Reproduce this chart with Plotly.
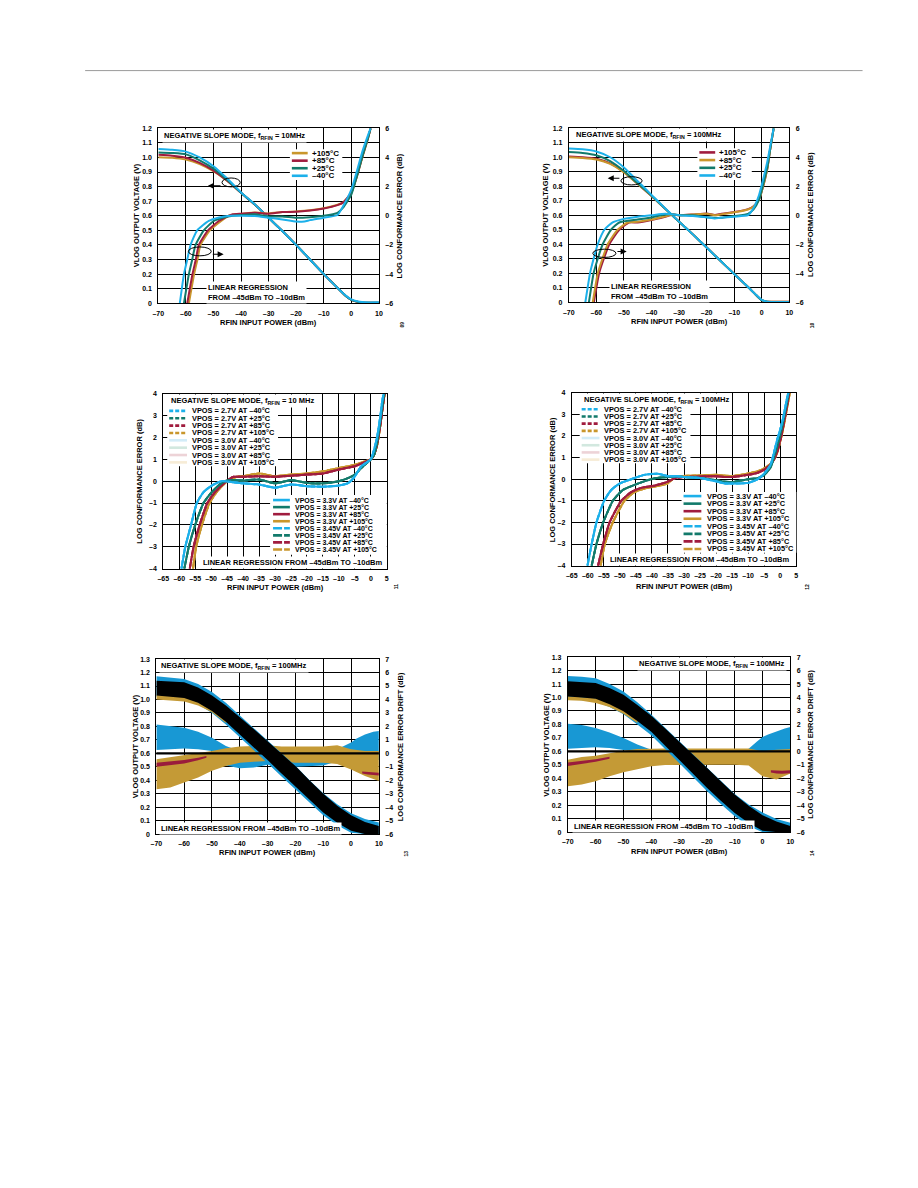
import plotly.graph_objects as go

W, H = 918, 1188
FONT = "Liberation Sans, Arial, Helvetica, sans-serif"

GOLD = "#c9962c"
MAROON = "#a01c3e"
TEAL = "#127a6b"
BLUE = "#1cb0ea"
FAINT_BLUE = "#d3ecf8"
FAINT_TEAL = "#d2e8df"
FAINT_MAROON = "#edd3d7"
FAINT_GOLD = "#f7ecd6"
BAND_BLUE = "#1898d4"
BAND_GOLD = "#c49a36"
BAND_MAROON = "#9a1c3c"

# ---------------- tick labels ----------------
X_TICKS_A = [-70, -60, -50, -40, -30, -20, -10, 0, 10]
X_TEXT_A = ["–70", "–60", "–50", "–40", "–30", "–20", "–10", "0", "10"]
V_TICKS_12 = [0, 0.1, 0.2, 0.3, 0.4, 0.5, 0.6, 0.7, 0.8, 0.9, 1.0, 1.1, 1.2]
V_TEXT_12 = ["0", "0.1", "0.2", "0.3", "0.4", "0.5", "0.6", "0.7", "0.8", "0.9", "1.0", "1.1", "1.2"]
DB_TICKS_6 = [-6, -4, -2, 0, 2, 4, 6]
DB_TEXT_6 = ["–6", "–4", "–2", "0", "2", "4", "6"]
X_TICKS_B = [-65, -60, -55, -50, -45, -40, -35, -30, -25, -20, -15, -10, -5, 0, 5]
X_TEXT_B = ["–65", "–60", "–55", "–50", "–45", "–40", "–35", "–30", "–25", "–20", "–15", "–10", "–5", "0", "5"]
E_TICKS_4 = [-4, -3, -2, -1, 0, 1, 2, 3, 4]
E_TEXT_4 = ["–4", "–3", "–2", "–1", "0", "1", "2", "3", "4"]
V_TICKS_13 = [0, 0.1, 0.2, 0.3, 0.4, 0.5, 0.6, 0.7, 0.8, 0.9, 1.0, 1.1, 1.2, 1.3]
V_TEXT_13 = ["0", "0.1", "0.2", "0.3", "0.4", "0.5", "0.6", "0.7", "0.8", "0.9", "1.0", "1.1", "1.2", "1.3"]
DB_TICKS_7 = [-6, -5, -4, -3, -2, -1, 0, 1, 2, 3, 4, 5, 6, 7]
DB_TEXT_7 = ["–6", "–5", "–4", "–3", "–2", "–1", "0", "1", "2", "3", "4", "5", "6", "7"]

# ---------------- chart 1 (10 MHz) ----------------
C1_P = [-70, -65, -60, -55, -50, -45, -40, -35, -30, -25, -20, -15, -10, -5, -2, 0, 3, 5, 10]
C1_V_P105 = [1.002, 0.998, 0.985, 0.955, 0.905, 0.838, 0.757, 0.677, 0.586, 0.495, 0.40, 0.30, 0.20, 0.105, 0.05, 0.023, 0.007, 0.003, 0.003]
C1_V_P85 = [1.018, 1.012, 0.998, 0.962, 0.91, 0.84, 0.757, 0.677, 0.586, 0.495, 0.40, 0.30, 0.20, 0.105, 0.05, 0.023, 0.007, 0.003, 0.003]
C1_V_P25 = [1.034, 1.03, 1.021, 0.98, 0.923, 0.845, 0.757, 0.677, 0.586, 0.495, 0.40, 0.30, 0.20, 0.105, 0.05, 0.023, 0.007, 0.004, 0.004]
C1_V_M40 = [1.058, 1.052, 1.04, 1.0, 0.94, 0.855, 0.76, 0.678, 0.586, 0.495, 0.40, 0.30, 0.20, 0.105, 0.052, 0.026, 0.01, 0.006, 0.006]

C1_E_M40_P = [-62.2, -60.7, -59.5, -58.3, -55.9, -51.7, -48, -44, -40, -35, -30, -25, -20, -17, -15, -10, -5, -3, 0, 2, 4, 6, 7]
C1_E_M40 = [-6, -4, -3, -2, -1, -0.36, -0.12, 0, 0, -0.02, -0.14, -0.25, -0.39, -0.4, -0.3, -0.14, 0.05, 0.65, 1.8, 3.05, 4.4, 5.5, 6]
C1_E_P25_P = [-60.7, -58.9, -57.7, -56.5, -53.5, -49.9, -46, -43, -40, -35, -30, -25, -20, -15, -10, -5, -3, 0, 2, 4, 6, 7]
C1_E_P25 = [-6, -4, -3, -2, -1, -0.36, -0.1, 0, 0.05, 0.1, -0.05, -0.05, -0.14, -0.1, 0, 0.2, 0.55, 1.45, 2.7, 4.07, 5.3, 6]
C1_E_P85_P = [-59.5, -57.6, -56.4, -55.3, -52, -48.1, -45, -43, -40, -35, -30, -25, -20, -15, -10, -5, -3, 0, 2, 4, 6, 7]
C1_E_P85 = [-6, -4, -3, -2, -1, -0.36, -0.05, 0.1, 0.14, 0.2, 0.14, 0.25, 0.27, 0.36, 0.5, 0.73, 0.9, 1.6, 2.7, 4.07, 5.3, 6]
C1_E_P105_P = [-58.9, -57, -55.8, -54.7, -51.3, -47.2, -44.5, -42, -40, -35, -30, -25, -20, -15, -10, -5, -3, 0, 2, 4, 6, 7]
C1_E_P105 = [-6, -4, -3, -2, -1, -0.36, 0, 0.1, 0.12, 0.22, 0.16, 0.25, 0.3, 0.38, 0.52, 0.75, 0.9, 1.55, 2.65, 4.0, 5.25, 6]

# ---------------- chart 2 (100 MHz) ----------------
C2_P = [-70, -65, -60, -55, -50, -45, -40, -35, -30, -25, -20, -15, -10, -5, -2, 0, 2, 5, 10]
C2_V_P105 = [1.005, 1.0, 0.99, 0.958, 0.898, 0.816, 0.733, 0.644, 0.555, 0.468, 0.377, 0.286, 0.195, 0.105, 0.048, 0.014, 0.003, 0.003, 0.003]
C2_V_P85 = [1.0, 0.995, 0.985, 0.955, 0.895, 0.815, 0.733, 0.644, 0.555, 0.468, 0.377, 0.286, 0.195, 0.105, 0.048, 0.014, 0.003, 0.003, 0.003]
C2_V_P25 = [1.036, 1.03, 1.014, 0.973, 0.905, 0.82, 0.736, 0.645, 0.555, 0.468, 0.377, 0.286, 0.195, 0.105, 0.048, 0.014, 0.003, 0.002, 0.002]
C2_V_M40 = [1.06, 1.055, 1.04, 1.0, 0.93, 0.835, 0.74, 0.647, 0.556, 0.468, 0.377, 0.286, 0.195, 0.105, 0.05, 0.016, 0.004, 0.002, 0.002]

C2_E_M40_P = [-64, -62.3, -61, -59.5, -57.1, -54.1, -50, -45, -40, -35, -32, -30, -25, -20, -17, -15, -10, -5, -3, -1, 0, 2, 3, 4.3]
C2_E_M40 = [-6, -4, -3, -2, -1, -0.5, -0.25, -0.1, 0, 0.1, 0.05, 0, -0.05, -0.14, -0.23, -0.18, -0.1, 0, 0.5, 1.4, 2.1, 3.7, 4.7, 6]
C2_E_P25_P = [-62.7, -61, -59.5, -57.7, -54.7, -51.7, -45, -40, -35, -32, -30, -25, -20, -17, -15, -10, -5, -3, -1, 0, 2, 3, 4.3]
C2_E_P25 = [-6, -4, -3, -2, -1, -0.5, -0.3, -0.15, 0.05, 0.05, 0, 0, -0.14, -0.18, -0.18, -0.05, 0.1, 0.4, 1.07, 1.75, 3.3, 4.5, 6]
C2_E_P85_P = [-61.3, -59.5, -57.8, -55.9, -52.3, -48.7, -45, -40, -35, -32, -30, -25, -20, -17, -15, -10, -5, -3, -1, 0, 2, 3, 4.3]
C2_E_P85 = [-6, -4, -3, -2, -1, -0.5, -0.45, -0.3, -0.07, 0.05, 0, 0.05, 0.1, 0.0, 0.05, 0.2, 0.4, 0.6, 1.07, 1.65, 3.2, 4.5, 6]
C2_E_P105_P = [-60.9, -59, -57.3, -55.3, -51.7, -48.1, -45, -40, -35, -32, -30, -25, -20, -17, -15, -10, -5, -3, -1, 0, 2, 3, 4.3]
C2_E_P105 = [-6, -4, -3, -2, -1, -0.5, -0.5, -0.33, -0.1, 0.05, 0, 0.05, 0.12, 0.02, 0.08, 0.22, 0.42, 0.62, 1.1, 1.65, 3.2, 4.5, 6]

# ---------------- chart 3 (10 MHz, VPOS) ----------------
C3_M40_P = [-59.3, -58.1, -56.3, -54.5, -52.4, -49.8, -46.7, -43, -40, -35, -30, -25, -20, -15, -10, -7, -5, -3, 0, 1, 2, 3, 3.5, 4]
C3_M40 = [-4, -3, -2, -1, -0.5, -0.2, 0, -0.05, -0.1, -0.15, -0.3, -0.15, -0.23, -0.25, -0.2, -0.08, 0.22, 0.68, 1.0, 1.43, 2.04, 3.0, 3.6, 4.0]
C3_P25_P = [-58.4, -57, -55, -52.4, -49.8, -47.7, -45.7, -43, -40, -35, -30, -25, -20, -15, -10, -7, -5, -3, 0, 1, 2, 3, 4, 4.2]
C3_P25 = [-4, -3, -2, -1, -0.5, -0.2, 0, 0.05, 0.03, 0.08, -0.1, 0.05, -0.08, -0.1, 0.0, 0.15, 0.3, 0.6, 1.0, 1.2, 1.8, 2.8, 3.85, 4.0]
C3_P85_P = [-56.7, -55.5, -53.6, -51.2, -48.8, -45.2, -43, -40, -35, -30, -25, -20, -15, -10, -7, -5, -3, 0, 1, 2, 3, 4, 4.3]
C3_P85 = [-4, -3, -2, -1, -0.5, 0, 0.2, 0.2, 0.23, 0.2, 0.25, 0.3, 0.35, 0.53, 0.62, 0.68, 0.8, 1.0, 1.2, 1.7, 2.6, 3.7, 4.0]
C3_P105_P = [-55.7, -54.7, -52.9, -50.5, -48.3, -45, -42, -40, -35, -30, -25, -20, -15, -10, -7, -5, -3, 0, 1, 2, 3, 4, 4.4]
C3_P105 = [-4, -3, -2, -1, -0.5, 0, 0.2, 0.23, 0.35, 0.23, 0.3, 0.35, 0.45, 0.6, 0.68, 0.75, 0.85, 1.0, 1.2, 1.66, 2.57, 3.7, 4.0]

# ---------------- chart 4 (100 MHz, VPOS) ----------------
C4_M40_P = [-60.1, -58.8, -57.3, -54.9, -52.7, -50.1, -46.5, -42.4, -38.3, -35, -32, -30, -25, -20, -17, -15, -10, -7, -5, -3, -2, -1, 0, 1, 2, 2.5]
C4_M40 = [-4, -3, -2, -1, -0.5, -0.2, 0, 0.2, 0.25, 0.14, 0.14, 0.1, 0.06, -0.1, -0.2, -0.2, -0.17, 0, 0.26, 0.67, 1.2, 1.8, 2.3, 2.9, 3.66, 4.0]
C4_P25_P = [-58.8, -57.3, -55.2, -52.2, -49.1, -46, -42.4, -38.8, -35, -32, -30, -25, -20, -17, -15, -10, -7, -5, -3, -2, -1, 0, 1, 2, 2.6]
C4_P25 = [-4, -3, -2, -1, -0.5, -0.3, -0.1, 0.05, 0.1, 0.14, 0.1, 0.06, -0.05, -0.12, -0.14, 0, 0.05, 0.2, 0.55, 1.0, 1.5, 2.05, 2.75, 3.5, 4.0]
C4_P85_P = [-56.8, -55.2, -53.2, -49.6, -46.5, -43.4, -39.3, -35.7, -32.7, -30, -25, -20, -17, -15, -10, -7, -5, -3, -2, -1, 0, 1, 2, 2.8]
C4_P85 = [-4, -3, -2, -1, -0.6, -0.4, -0.3, -0.15, 0.05, 0.1, 0.12, 0.14, 0.1, 0.1, 0.2, 0.3, 0.44, 0.68, 0.9, 1.25, 1.8, 2.5, 3.3, 4.0]
C4_P105_P = [-56, -54.7, -52.2, -48.6, -45.5, -41.4, -37.8, -35.2, -32.7, -30, -25, -20, -17, -15, -10, -7, -5, -3, -2, -1, 0, 1, 2, 3]
C4_P105 = [-4, -3, -2, -1, -0.6, -0.4, -0.3, -0.2, 0.1, 0.15, 0.17, 0.2, 0.16, 0.14, 0.26, 0.37, 0.5, 0.72, 0.9, 1.2, 1.75, 2.4, 3.2, 4.0]

# ---------------- charts 5 & 6 (distribution bands) ----------------
P_BAND = [-70, -65, -60, -55, -50, -45, -40, -35, -30, -25, -20, -15, -10, -5, 0, 5, 10]

C5_BLACK_HI = [1.14, 1.135, 1.128, 1.09, 1.03, 0.955, 0.87, 0.78, 0.69, 0.6, 0.505, 0.4, 0.3, 0.21, 0.14, 0.09, 0.06]
C5_BLACK_LO = [1.03, 1.022, 1.012, 0.975, 0.914, 0.835, 0.74, 0.645, 0.55, 0.45, 0.35, 0.255, 0.16, 0.085, 0.025, 0.0, 0.0]
C5_VBLUE_HI = [1.173, 1.165, 1.153, 1.115, 1.055, 0.975, 0.88, 0.785, 0.693, 0.602, 0.507, 0.402, 0.304, 0.222, 0.155, 0.112, 0.086]
C5_VBLUE_LO = [1.02, 1.015, 1.005, 0.965, 0.9, 0.815, 0.718, 0.622, 0.527, 0.427, 0.327, 0.235, 0.14, 0.065, 0.01, 0.0, 0.0]
C5_VGOLD_P = [-70, -65, -60, -55, -50, -45]
C5_VGOLD_HI = [1.035, 1.028, 1.018, 0.98, 0.92, 0.84]
C5_VGOLD_LO = [1.0, 0.995, 0.985, 0.955, 0.905, 0.825]

C5_EBLUE_A_P = [-70, -65, -60, -55, -50, -45, -40, -38]
C5_EBLUE_A_HI = [2.15, 2.05, 1.9, 1.6, 1.16, 0.54, 0.15, 0.0]
C5_EBLUE_A_LO = [0.25, 0.3, 0.35, 0.3, 0.17, 0.05, 0.0, 0.0]
C5_EBLUE_B_P = [-50, -45, -40, -35, -30, -25, -20, -15, -10, -5, 0]
C5_EBLUE_B_HI = [-0.3, -0.3, -0.3, -0.3, -0.3, -0.3, -0.3, -0.3, -0.3, -0.3, -0.3]
C5_EBLUE_B_LO = [-0.6, -0.9, -1.1, -1.05, -0.85, -0.85, -1.0, -0.95, -0.9, -0.6, -0.5]
C5_EBLUE_C_P = [-8, -5, -2, 0, 2, 5, 8, 10]
C5_EBLUE_C_HI = [0.0, 0.3, 0.6, 0.8, 1.1, 1.4, 1.6, 1.65]
C5_EBLUE_C_LO = [0.0, -0.1, -0.2, -0.3, -0.4, -0.5, -0.5, -0.5]
C5_EGOLD_HI = [-0.44, -0.3, -0.15, 0.0, 0.17, 0.37, 0.5, 0.54, 0.6, 0.5, 0.5, 0.47, 0.5, 0.6, 0.3, 0.17, 0.17]
C5_EGOLD_LO = [-2.67, -2.54, -2.17, -1.8, -1.3, -0.94, -0.7, -0.62, -0.57, -0.62, -0.7, -0.72, -0.7, -0.8, -1.2, -1.68, -2.05]
C5_EMAR_A_P = [-70, -65, -60, -55, -52]
C5_EMAR_A_HI = [-0.7, -0.62, -0.5, -0.32, -0.2]
C5_EMAR_A_LO = [-1.0, -0.9, -0.75, -0.52, -0.32]
C5_EMAR_B_P = [4, 6, 8, 10]
C5_EMAR_B_HI = [-1.35, -1.4, -1.45, -1.45]
C5_EMAR_B_LO = [-1.5, -1.58, -1.62, -1.65]

C6_BLACK_HI = [1.12, 1.115, 1.107, 1.07, 1.02, 0.945, 0.865, 0.77, 0.675, 0.578, 0.478, 0.378, 0.28, 0.195, 0.125, 0.078, 0.045]
C6_BLACK_LO = [1.008, 1.0, 0.99, 0.95, 0.897, 0.825, 0.745, 0.645, 0.54, 0.435, 0.33, 0.232, 0.142, 0.068, 0.01, 0.0, 0.0]
C6_VBLUE_HI = [1.16, 1.155, 1.144, 1.1, 1.045, 0.965, 0.873, 0.775, 0.678, 0.58, 0.48, 0.38, 0.283, 0.205, 0.145, 0.098, 0.07]
C6_VBLUE_LO = [0.99, 0.98, 0.97, 0.93, 0.875, 0.8, 0.72, 0.62, 0.515, 0.41, 0.305, 0.208, 0.117, 0.043, 0.0, 0.0, 0.0]
C6_VGOLD_P = [-70, -65, -60, -55, -50, -45]
C6_VGOLD_HI = [1.01, 1.005, 0.995, 0.96, 0.905, 0.83]
C6_VGOLD_LO = [0.98, 0.975, 0.96, 0.93, 0.88, 0.81]

C6_EBLUE_A_P = [-70, -65, -60, -55, -50, -45, -40, -37]
C6_EBLUE_A_HI = [2.05, 1.95, 1.73, 1.4, 0.99, 0.5, 0.12, 0.0]
C6_EBLUE_A_LO = [0.2, 0.25, 0.3, 0.25, 0.1, 0.05, 0.0, 0.0]
C6_EBLUE_C_P = [-7, -5, -2, 0, 2, 5, 8, 10]
C6_EBLUE_C_HI = [0.0, 0.2, 0.74, 1.06, 1.25, 1.48, 1.7, 1.8]
C6_EBLUE_C_LO = [0.0, -0.1, -0.3, -0.4, -0.5, -0.5, -0.5, -0.5]
C6_EGOLD_HI = [-0.62, -0.42, -0.32, -0.12, 0.05, 0.17, 0.22, 0.22, 0.22, 0.22, 0.22, 0.22, 0.22, 0.22, 0.0, 0.12, 0.17]
C6_EGOLD_LO = [-2.6, -2.47, -2.22, -1.85, -1.56, -1.31, -1.11, -1.01, -0.99, -0.99, -0.99, -0.99, -0.99, -1.06, -1.85, -2.1, -1.65]
C6_EMAR_A_P = [-70, -65, -60, -55]
C6_EMAR_A_HI = [-0.82, -0.72, -0.58, -0.4]
C6_EMAR_A_LO = [-1.08, -0.95, -0.78, -0.55]
C6_EMAR_B_P = [3, 5, 7, 10]
C6_EMAR_B_HI = [-1.4, -1.45, -1.45, -1.4]
C6_EMAR_B_LO = [-1.58, -1.65, -1.66, -1.62]

# ---------------- legend texts ----------------
TEMP_LABELS_C1 = ["+105°C", "+85°C", "+25°C", "–40°C"]
TEMP_LABELS_C2 = ["+105°C", "+85°C", "+25°C", "–40°C"]
C3_LEG_TOP = ["VPOS = 2.7V AT –40°C", "VPOS = 2.7V AT +25°C", "VPOS = 2.7V AT +85°C", "VPOS = 2.7V AT +105°C",
              "VPOS = 3.0V AT –40°C", "VPOS = 3.0V AT +25°C", "VPOS = 3.0V AT +85°C", "VPOS = 3.0V AT +105°C"]
C3_LEG_BOT = ["VPOS = 3.3V AT –40°C", "VPOS = 3.3V AT +25°C", "VPOS = 3.3V AT +85°C", "VPOS = 3.3V AT +105°C",
              "VPOS = 3.45V AT –40°C", "VPOS = 3.45V AT +25°C", "VPOS = 3.45V AT +85°C", "VPOS = 3.45V AT +105°C"]

# ======================================================================
fig = go.Figure()
shapes = []
ann = []

DASH_S = "4px,2px"
DASH_L = "9px,2px"


def add_line(x, y, color, xa, ya, dash="solid", width=2.0):
    fig.add_trace(go.Scatter(x=x, y=y, mode="lines", xaxis=xa, yaxis=ya,
                             line=dict(color=color, width=width, dash=dash, shape="spline", smoothing=0.5),
                             showlegend=False, hoverinfo="skip"))


def add_band(x, hi, lo, color, xa, ya):
    xs = list(x) + list(x)[::-1]
    ys = list(hi) + list(lo)[::-1]
    fig.add_trace(go.Scatter(x=xs, y=ys, mode="lines", fill="toself", fillcolor=color,
                             line=dict(width=0, color=color), xaxis=xa, yaxis=ya,
                             showlegend=False, hoverinfo="skip"))


def txt(x, y, s, xanchor="left", size=7.5, angle=0, bg=None, align="left"):
    d = dict(xref="paper", yref="paper", x=x / W, y=1 - y / H, text=s, showarrow=False,
             xanchor=xanchor, yanchor="middle", textangle=angle, align=align,
             font=dict(family=FONT, size=size, color="black", weight="bold"))
    if bg:
        d.update(bgcolor=bg, borderpad=1)
    ann.append(d)


def rect(x0, y0, x1, y1):
    shapes.append(dict(type="rect", xref="paper", yref="paper", x0=x0 / W, x1=x1 / W,
                       y0=1 - y1 / H, y1=1 - y0 / H, fillcolor="white", line=dict(width=0), layer="above"))


def legend(xl0, xl1, xt, ys, labels, colors, dashes, size, width=2.6):
    for yy, lab, col, dsh in zip(ys, labels, colors, dashes):
        shapes.append(dict(type="line", xref="paper", yref="paper", x0=xl0 / W, x1=xl1 / W,
                           y0=1 - yy / H, y1=1 - yy / H, line=dict(color=col, width=width, dash=dsh), layer="above"))
        txt(xt, yy, lab, size=size)


def ellipse(xr, yr, x0, x1, y0, y1):
    shapes.append(dict(type="circle", xref=xr, yref=yr, x0=x0, x1=x1, y0=y0, y1=y1,
                       line=dict(color="black", width=1), layer="above"))


def arrow(xr, yr, tail_x, head_x, yv):
    ann.append(dict(xref=xr, yref=yr, axref=xr, ayref=yr, x=head_x, y=yv, ax=tail_x, ay=yv,
                    text="", showarrow=True, arrowhead=2, arrowsize=1.1, arrowwidth=1.1, arrowcolor="black"))


# ---------------- chart 1 ----------------
for v, c in [(C1_V_P105, GOLD), (C1_V_P85, MAROON), (C1_V_P25, TEAL), (C1_V_M40, BLUE)]:
    add_line(C1_P, v, c, "x", "y")
for p, e, c in [(C1_E_P105_P, C1_E_P105, GOLD), (C1_E_P85_P, C1_E_P85, MAROON),
                (C1_E_P25_P, C1_E_P25, TEAL), (C1_E_M40_P, C1_E_M40, BLUE)]:
    add_line(p, e, c, "x", "y2")

# ---------------- chart 2 ----------------
for v, c in [(C2_V_P105, MAROON), (C2_V_P85, GOLD), (C2_V_P25, TEAL), (C2_V_M40, BLUE)]:
    add_line(C2_P, v, c, "x2", "y3")
for p, e, c in [(C2_E_P105_P, C2_E_P105, MAROON), (C2_E_P85_P, C2_E_P85, GOLD),
                (C2_E_P25_P, C2_E_P25, TEAL), (C2_E_M40_P, C2_E_M40, BLUE)]:
    add_line(p, e, c, "x2", "y4")

# ---------------- chart 3 & 4 ----------------
for (xa, ya, series) in [
    ("x3", "y5", [(C3_P105_P, C3_P105, GOLD, FAINT_GOLD), (C3_P85_P, C3_P85, MAROON, FAINT_MAROON),
                  (C3_P25_P, C3_P25, TEAL, FAINT_TEAL), (C3_M40_P, C3_M40, BLUE, FAINT_BLUE)]),
    ("x4", "y6", [(C4_P105_P, C4_P105, GOLD, FAINT_GOLD), (C4_P85_P, C4_P85, MAROON, FAINT_MAROON),
                  (C4_P25_P, C4_P25, TEAL, FAINT_TEAL), (C4_M40_P, C4_M40, BLUE, FAINT_BLUE)])]:
    for p, e, c, fc in series:
        add_line(p, e, fc, xa, ya, "solid", 2.0)
    for p, e, c, fc in series:
        add_line(p, e, c, xa, ya, "solid", 2.0)
        add_line(p, e, c, xa, ya, DASH_S, 2.0)
        add_line(p, e, c, xa, ya, DASH_L, 2.0)

# ---------------- chart 5 ----------------
add_band(C5_EBLUE_A_P, C5_EBLUE_A_HI, C5_EBLUE_A_LO, BAND_BLUE, "x5", "y7")
add_band(C5_EBLUE_B_P, C5_EBLUE_B_HI, C5_EBLUE_B_LO, BAND_BLUE, "x5", "y7")
add_band(C5_EBLUE_C_P, C5_EBLUE_C_HI, C5_EBLUE_C_LO, BAND_BLUE, "x5", "y7")
add_band(P_BAND, C5_EGOLD_HI, C5_EGOLD_LO, BAND_GOLD, "x5", "y7")
add_band(C5_EMAR_A_P, C5_EMAR_A_HI, C5_EMAR_A_LO, BAND_MAROON, "x5", "y7")
add_band(C5_EMAR_B_P, C5_EMAR_B_HI, C5_EMAR_B_LO, BAND_MAROON, "x5", "y7")
add_band(P_BAND, C5_VBLUE_HI, C5_VBLUE_LO, BAND_BLUE, "x5", "y8")
add_band(C5_VGOLD_P, C5_VGOLD_HI, C5_VGOLD_LO, BAND_GOLD, "x5", "y8")
add_band(P_BAND, C5_BLACK_HI, C5_BLACK_LO, "black", "x5", "y8")

# ---------------- chart 6 ----------------
add_band(C6_EBLUE_A_P, C6_EBLUE_A_HI, C6_EBLUE_A_LO, BAND_BLUE, "x6", "y9")
add_band(C6_EBLUE_C_P, C6_EBLUE_C_HI, C6_EBLUE_C_LO, BAND_BLUE, "x6", "y9")
add_band(P_BAND, C6_EGOLD_HI, C6_EGOLD_LO, BAND_GOLD, "x6", "y9")
add_band(C6_EMAR_A_P, C6_EMAR_A_HI, C6_EMAR_A_LO, BAND_MAROON, "x6", "y9")
add_band(C6_EMAR_B_P, C6_EMAR_B_HI, C6_EMAR_B_LO, BAND_MAROON, "x6", "y9")
add_band(P_BAND, C6_VBLUE_HI, C6_VBLUE_LO, BAND_BLUE, "x6", "y10")
add_band(C6_VGOLD_P, C6_VGOLD_HI, C6_VGOLD_LO, BAND_GOLD, "x6", "y10")
add_band(P_BAND, C6_BLACK_HI, C6_BLACK_LO, "black", "x6", "y10")

# thick 0 dB reference lines in charts 5 & 6
for xr, yr in [("x5 domain", "y7"), ("x6 domain", "y9")]:
    shapes.append(dict(type="line", xref=xr, yref=yr, x0=0, x1=1, y0=0, y1=0,
                       line=dict(color="black", width=2.2), layer="above"))

# ---------------- axes ----------------
TICKFONT = dict(family=FONT, size=7, color="black", weight="bold")


def xax(l, r, rng, vals, text, anchor):
    return dict(domain=[l / W, r / W], range=rng, anchor=anchor, tickmode="array", tickvals=vals, ticktext=text,
                showgrid=True, gridcolor="black", gridwidth=1, zeroline=False,
                showline=True, linecolor="black", linewidth=1, mirror=True,
                ticks="", tickfont=TICKFONT, ticklabelstandoff=3, fixedrange=True)


def yax(t, b, rng, vals, text, anchor, side="left", grid=True, overlay=None):
    d = dict(range=rng, anchor=anchor, side=side, tickmode="array", tickvals=vals, ticktext=text,
             showgrid=grid, gridcolor="black", gridwidth=1, zeroline=False,
             showline=True, linecolor="black", linewidth=1, mirror=True,
             ticks="", tickfont=TICKFONT, ticklabelstandoff=4, fixedrange=True)
    if overlay:
        d["overlaying"] = overlay
    else:
        d["domain"] = [1 - b / H, 1 - t / H]
    return d


layout_axes = dict(
    xaxis=xax(154, 377, [-70, 10], X_TICKS_A, X_TEXT_A, "y"),
    yaxis=yax(125, 301, [0, 1.2], V_TICKS_12, V_TEXT_12, "x"),
    yaxis2=yax(125, 301, [-6, 6], DB_TICKS_6, DB_TEXT_6, "x", side="right", grid=False, overlay="y"),
    xaxis2=xax(569, 792, [-70, 10], X_TICKS_A, X_TEXT_A, "y3"),
    yaxis3=yax(125, 300, [0, 1.2], V_TICKS_12, V_TEXT_12, "x2"),
    yaxis4=yax(125, 300, [-6, 6], DB_TICKS_6, DB_TEXT_6, "x2", side="right", grid=False, overlay="y3"),
    xaxis3=xax(159, 385, [-65, 5], X_TICKS_B, X_TEXT_B, "y5"),
    yaxis5=yax(392, 568, [-4, 4], E_TICKS_4, E_TEXT_4, "x3"),
    xaxis4=xax(572, 799, [-65, 5], X_TICKS_B, X_TEXT_B, "y6"),
    yaxis6=yax(391, 565, [-4, 4], E_TICKS_4, E_TEXT_4, "x4"),
    xaxis5=xax(152, 377, [-70, 10], X_TICKS_A, X_TEXT_A, "y7"),
    yaxis7=yax(659, 835, [-6, 7], DB_TICKS_7, DB_TEXT_7, "x5", side="right"),
    yaxis8=yax(659, 835, [0, 1.3], V_TICKS_13, V_TEXT_13, "x5", side="left", grid=False, overlay="y7"),
    xaxis6=xax(568, 793, [-70, 10], X_TICKS_A, X_TEXT_A, "y9"),
    yaxis9=yax(657, 833, [-6, 7], DB_TICKS_7, DB_TEXT_7, "x6", side="right"),
    yaxis10=yax(657, 833, [0, 1.3], V_TICKS_13, V_TEXT_13, "x6", side="left", grid=False, overlay="y9"),
)

# ---------------- decorations ----------------
shapes.append(dict(type="line", xref="paper", yref="paper", x0=80 / W, x1=866 / W, y0=1 - 67 / H, y1=1 - 67 / H,
                   line=dict(color="#9a9a9a", width=1)))

# chart 1
txt(158, 132.3, "NEGATIVE SLOPE MODE, f<sub>RFIN</sub> = 10MHz", bg="white")
rect(287, 146, 340, 177)
legend(289, 305, 307, [150, 157.6, 165.2, 172.8], TEMP_LABELS_C1, [GOLD, MAROON, TEAL, BLUE], ["solid"] * 4, 8)
txt(202, 290.5, "LINEAR REGRESSION<br>FROM –45dBm TO –10dBm", bg="white")
ellipse("x", "y", -46.9, -40.3, 0.798, 0.859)
arrow("x", "y", -46.9, -52.0, 0.805)
ellipse("x", "y2", -59.1, -50.8, -2.75, -2.14)
arrow("x", "y2", -50.8, -46.3, -2.64)
txt(132, 213, "VLOG OUTPUT VOLTAGE (V)", xanchor="center", angle=-90)
txt(398, 213, "LOG CONFORMANCE ERROR (dB)", xanchor="center", angle=-90)
txt(265.5, 320, "RFIN INPUT POWER (dBm)", xanchor="center")

# chart 2
txt(574, 131.7, "NEGATIVE SLOPE MODE, f<sub>RFIN</sub> = 100MHz", bg="white")
rect(699, 145, 754, 177)
legend(701, 717, 718.5, [149.3, 157, 164.8, 172.5], TEMP_LABELS_C2, [MAROON, GOLD, TEAL, BLUE], ["solid"] * 4, 8)
txt(610, 289.5, "LINEAR REGRESSION<br>FROM –45dBm TO –10dBm", bg="white")
ellipse("x2", "y3", -51.1, -43.4, 0.809, 0.866)
arrow("x2", "y3", -51.1, -55.9, 0.855)
ellipse("x2", "y4", -61.3, -52.9, -2.91, -2.34)
arrow("x2", "y4", -52.9, -49.0, -2.5)
txt(546, 212, "VLOG OUTPUT VOLTAGE (V)", xanchor="center", angle=-90)
txt(814, 212, "LOG CONFORMANCE ERROR (dB)", xanchor="center", angle=-90)
txt(680.5, 319, "RFIN INPUT POWER (dBm)", xanchor="center")

# chart 3
txt(165, 399.7, "NEGATIVE SLOPE MODE, f<sub>RFIN</sub> = 10 MHz", bg="white")
rect(163, 404, 275, 465)
TOP_COLORS = [BLUE, TEAL, MAROON, GOLD, FAINT_BLUE, FAINT_TEAL, FAINT_MAROON, FAINT_GOLD]
TOP_DASHES = [DASH_S] * 4 + ["solid"] * 4
BOT_COLORS = [BLUE, TEAL, MAROON, GOLD, BLUE, TEAL, MAROON, GOLD]
BOT_DASHES = ["solid"] * 4 + [DASH_L] * 4
legend(165, 183, 186, [409.3 + 7.4 * i for i in range(8)], C3_LEG_TOP, TOP_COLORS, TOP_DASHES, 7.4)
rect(267, 494, 385, 554)
legend(270, 287, 290, [499 + 7.1 * i for i in range(8)], C3_LEG_BOT, BOT_COLORS, BOT_DASHES, 7.0)
txt(382, 561.7, "LINEAR REGRESSION FROM –45dBm TO –10dBm", xanchor="right", bg="white")
txt(135, 480, "LOG CONFORMANCE ERROR (dB)", xanchor="center", angle=-90)
txt(272, 586.7, "RFIN INPUT POWER (dBm)", xanchor="center")

# chart 4
txt(582, 398.3, "NEGATIVE SLOPE MODE, f<sub>RFIN</sub> = 100MHz", bg="white")
rect(580, 403, 692, 462)
legend(582, 600, 603, [407.7 + 7.23 * i for i in range(8)], C3_LEG_TOP, TOP_COLORS, TOP_DASHES, 7.4)
rect(683, 491, 799, 552)
legend(685, 703, 706.7, [495 + 7.6 * i for i in range(8)], C3_LEG_BOT, BOT_COLORS, BOT_DASHES, 7.4)
txt(794, 559, "LINEAR REGRESSION FROM –45dBm TO –10dBm", xanchor="right", bg="white")
txt(552, 478, "LOG CONFORMANCE ERROR (dB)", xanchor="center", angle=-90)
txt(685.5, 586, "RFIN INPUT POWER (dBm)", xanchor="center")

# chart 5
txt(155, 666, "NEGATIVE SLOPE MODE, f<sub>RFIN</sub> = 100MHz", bg="white")
txt(155, 829.3, "LINEAR REGRESSION FROM –45dBm TO –10dBm", bg="white")
txt(131, 747, "VLOG OUTPUT VOLTAGE (V)", xanchor="center", angle=-90)
txt(399, 747, "LOG CONFORMANCE ERROR DRIFT (dB)", xanchor="center", angle=-90)
txt(264.5, 854, "RFIN INPUT POWER (dBm)", xanchor="center")

# chart 6
txt(790, 664, "NEGATIVE SLOPE MODE, f<sub>RFIN</sub> = 100MHz", xanchor="right", bg="white")
txt(572, 827.3, "LINEAR REGRESSION FROM –45dBm TO –10dBm", bg="white")
txt(547, 745, "VLOG OUTPUT VOLTAGE (V)", xanchor="center", angle=-90)
txt(813, 745, "LOG CONFORMANCE ERROR DRIFT (dB)", xanchor="center", angle=-90)
txt(680.5, 852.3, "RFIN INPUT POWER (dBm)", xanchor="center")

# figure numbers
for (fxp, fyp, lab) in [(400.7, 322, "09"), (814.3, 322.7, "10"), (394, 586, "11"),
                        (809, 586, "12"), (404, 855, "13"), (815, 854, "14")]:
    txt(fxp, fyp, lab, xanchor="center", size=5, angle=-90)

fig.update_layout(
    width=W, height=H, margin=dict(l=0, r=0, t=0, b=0, pad=0),
    paper_bgcolor="white", plot_bgcolor="white",
    font=dict(family=FONT, size=7.5, color="black", weight="bold"),
    showlegend=False, shapes=shapes, annotations=ann,
    **layout_axes,
)

fig.write_html("out.html")
